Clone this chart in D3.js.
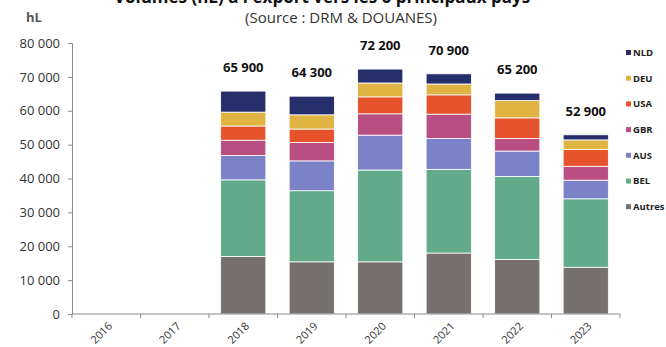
<!DOCTYPE html>
<html>
<head>
<meta charset="utf-8">
<script src="https://cdn.jsdelivr.net/npm/d3@7"></script>
<style>
  body { margin: 0; background: #fff; }
  svg { display: block; font-family: "Open Sans", "DejaVu Sans", sans-serif; }
</style>
</head>
<body>
<svg id="chart"></svg>
<script>
// Data (hL)
var years = ["2016", "2017", "2018", "2019", "2020", "2021", "2022", "2023"];
var countries = ["Autres", "BEL", "AUS", "GBR", "USA", "DEU", "NLD"];
var autres = [0, 0, 17000, 15400, 15400, 18000, 16100, 13800];
var bel    = [0, 0, 22600, 21000, 27100, 24700, 24500, 20200];
var aus    = [0, 0, 7200, 8800, 10300, 9100, 7500, 5500];
var gbr    = [0, 0, 4500, 5400, 6300, 7200, 3700, 4100];
var usa    = [0, 0, 4200, 4000, 5000, 5700, 6100, 5000];
var deu    = [0, 0, 4100, 4200, 4100, 3200, 5100, 2800];
var nld    = [0, 0, 6200, 5500, 4100, 3000, 2200, 1500];
var totals = [null, null, 65900, 64300, 72200, 70900, 65200, 52900];
var yTicks = [0, 10000, 20000, 30000, 40000, 50000, 60000, 70000, 80000];

var colors = {
  Autres: "#76716f", BEL: "#63aa8b", AUS: "#7b82c8", GBR: "#b84e82",
  USA: "#e5522b", DEU: "#dfb442", NLD: "#262f6b"
};

var seriesValues = { Autres: autres, BEL: bel, AUS: aus, GBR: gbr, USA: usa, DEU: deu, NLD: nld };

// build table for d3.stack
var table = years.map(function (y, i) {
  var row = { year: y };
  countries.forEach(function (c) { row[c] = seriesValues[c][i]; });
  return row;
});

var svgWidth = 666, svgHeight = 347;
var svg = d3.select("#chart").attr("width", svgWidth).attr("height", svgHeight);

var xScale = d3.scaleBand().domain(years).range([72, 620])
  .paddingInner(0.34).paddingOuter(0.17);
var yScale = d3.scaleLinear().domain([0, 80000]).range([314, 43]);

var fmt = function (v) { return d3.format(",")(v).replace(/,/g, " "); };

// Title (cut at the top edge, as in the original)
svg.append("text")
  .attr("x", 322).attr("y", 3)
  .attr("text-anchor", "middle")
  .style("font-size", "17px").style("font-weight", "bold").attr("fill", "#111")
  .text("Volumes (hL) à l'export vers les 6 principaux pays");

svg.append("text")
  .attr("x", 341).attr("y", 23)
  .attr("text-anchor", "middle")
  .style("font-size", "15px").attr("fill", "#333")
  .text("(Source : DRM & DOUANES)");

svg.append("text")
  .attr("x", 26).attr("y", 22)
  .style("font-size", "13px").style("font-weight", "bold").attr("fill", "#555")
  .text("hL");

// Stacked bars
var stack = d3.stack().keys(countries);
var layers = stack(table);

svg.selectAll(".layer")
  .data(layers)
  .enter()
  .append("g")
  .attr("class", "layer")
  .attr("fill", function (d) { return colors[d.key]; })
  .selectAll("rect")
  .data(function (d) { return d; })
  .enter()
  .append("rect")
  .filter(function (d) { return d[1] > d[0]; })
  .attr("x", function (d) { return xScale(d.data.year); })
  .attr("y", function (d) { return yScale(d[1]); })
  .attr("width", xScale.bandwidth())
  .attr("height", function (d) { return yScale(d[0]) - yScale(d[1]); })
  .attr("stroke", "#fff")
  .attr("stroke-width", 0.8);

// Total labels
svg.selectAll(".total")
  .data(years.filter(function (y, i) { return totals[i] != null; }))
  .enter()
  .append("text")
  .attr("class", "total")
  .attr("x", function (y) { return xScale(y) + xScale.bandwidth() / 2; })
  .attr("y", function (y) { return yScale(totals[years.indexOf(y)]) - 19; })
  .attr("text-anchor", "middle")
  .style("font-size", "13px").style("font-weight", "bold").attr("fill", "#111")
  .text(function (y) { return fmt(totals[years.indexOf(y)]); });

// Y axis
var yAxis = svg.append("g")
  .attr("transform", "translate(72,0)")
  .call(d3.axisLeft(yScale).tickValues(yTicks).tickSize(4).tickPadding(8).tickFormat(fmt));
yAxis.select(".domain").attr("stroke", "#8c8c8c");
yAxis.selectAll(".tick line").attr("stroke", "#8c8c8c");
yAxis.selectAll("text").style("font-size", "13px").attr("fill", "#333")
  .style("font-family", "\"Open Sans\", sans-serif");

// X axis line with ticks at category boundaries
var xAxis = svg.append("g").attr("transform", "translate(0,314)");
xAxis.append("line").attr("x1", 72).attr("x2", 620).attr("y1", 0).attr("y2", 0)
  .attr("stroke", "#8c8c8c");
var step = xScale.step();
var bounds = d3.range(years.length + 1).map(function (i) { return 72 + i * step; });
xAxis.selectAll(".bt").data(bounds).enter().append("line")
  .attr("x1", function (d) { return d; }).attr("x2", function (d) { return d; })
  .attr("y1", 0).attr("y2", 4).attr("stroke", "#8c8c8c");
xAxis.selectAll(".xl").data(years).enter().append("text")
  .attr("transform", function (y) {
    return "translate(" + (xScale(y) + xScale.bandwidth() / 2 + 4) + ",10) rotate(-45)";
  })
  .attr("text-anchor", "end")
  .attr("dy", "0.35em")
  .style("font-size", "11px").attr("fill", "#333")
  .text(function (y) { return y; });

// Legend
var legendOrder = ["NLD", "DEU", "USA", "GBR", "AUS", "BEL", "Autres"];
var legend = svg.selectAll(".legend").data(legendOrder).enter().append("g")
  .attr("transform", function (d, i) { return "translate(626," + (52.5 + i * 25.7) + ")"; });
legend.append("rect").attr("x", 0).attr("y", -2.5).attr("width", 5).attr("height", 5)
  .attr("fill", function (d) { return colors[d]; });
legend.append("text").attr("x", 7).attr("y", 0).attr("dy", "0.35em")
  .style("font-size", "9.5px").style("font-weight", "bold").attr("fill", "#222")
  .text(function (d) { return d; });
</script>
</body>
</html>
